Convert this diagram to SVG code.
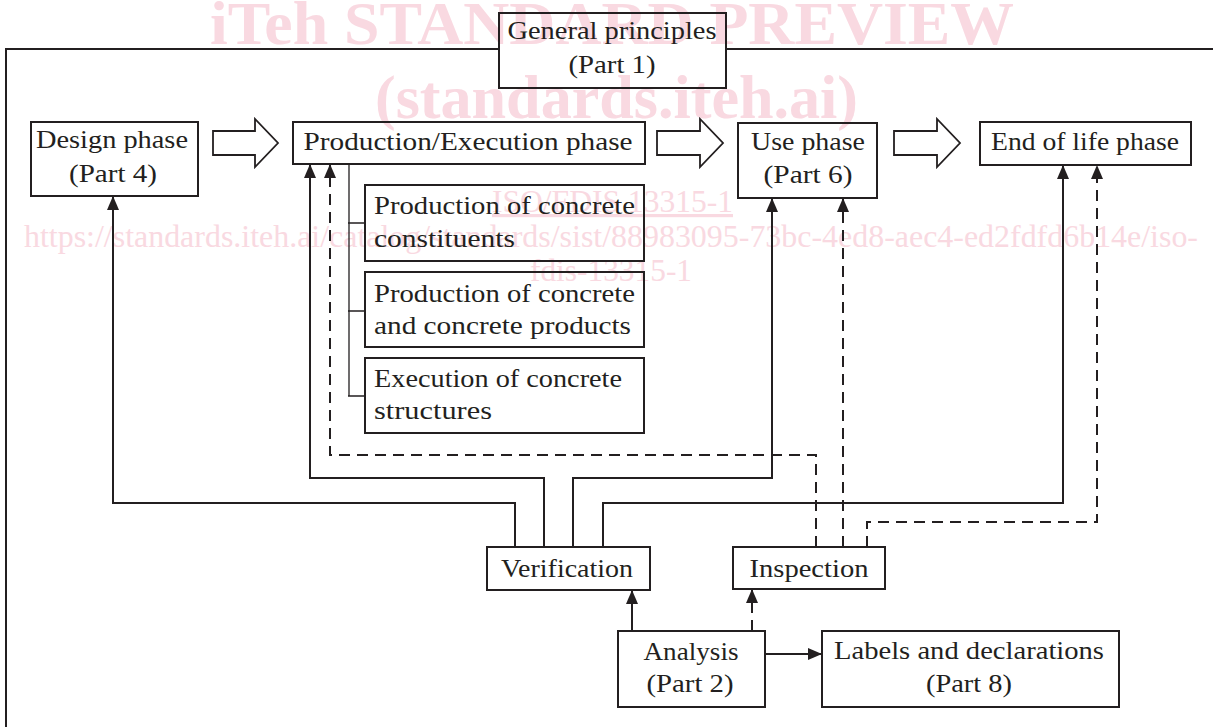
<svg xmlns="http://www.w3.org/2000/svg" width="1213" height="727" viewBox="0 0 1213 727">
<style>
  .wm { fill: #f9d9e1; font-family: "Liberation Serif", "Times New Roman", serif; }
  .wmb { font-weight: bold; font-size: 62px; }
  .wms { font-size: 32px; }
  .box { fill: none; stroke: #231f20; stroke-width: 2; }
  .barrow { fill: #ffffff; stroke: #231f20; stroke-width: 1.8; stroke-linejoin: miter; }
  .t { fill: #231f20; font-family: "Liberation Serif", "Times New Roman", serif; font-size: 26px; }
  .c { text-anchor: middle; }
  .line { fill: none; stroke: #231f20; stroke-width: 2; }
  .dash { fill: none; stroke: #231f20; stroke-width: 2; stroke-dasharray: 11 7; }
  .thin { fill: none; stroke: #231f20; stroke-width: 1.3; }
  .frame { fill: none; stroke: #231f20; stroke-width: 2; }
</style>
<defs>
  <marker id="ah" viewBox="0 0 14 12" markerWidth="14" markerHeight="12" refX="14" refY="6" orient="auto" markerUnits="userSpaceOnUse">
    <path d="M0,0 L14,6 L0,12 z" fill="#231f20"/>
  </marker>
</defs>
<rect width="1213" height="727" fill="#ffffff"/>

<g id="watermark">
  <text class="wm wmb" x="210" y="44" textLength="804" lengthAdjust="spacingAndGlyphs">iTeh STANDARD PREVIEW</text>
  <text class="wm wmb" x="375" y="118" textLength="483" lengthAdjust="spacingAndGlyphs">(standards.iteh.ai)</text>
  <text class="wm wms" x="492" y="212" textLength="241" lengthAdjust="spacingAndGlyphs" text-decoration="underline">ISO/FDIS 13315-1</text>
  <text class="wm wms" x="24" y="247" textLength="1174" lengthAdjust="spacingAndGlyphs">https://standards.iteh.ai/catalog/standards/sist/88983095-73bc-4ed8-aec4-ed2fdfd6b14e/iso-</text>
  <text class="wm wms" x="530" y="281" textLength="162" lengthAdjust="spacingAndGlyphs">fdis-13315-1</text>
</g>

<path class="frame" d="M6,727 V49 H499 M726,49 H1213"/>

<g id="connectors">
  <path class="line" d="M515,547 V503 H113 V196" marker-end="url(#ah)"/>
  <path class="line" d="M544,547 V478 H310 V164" marker-end="url(#ah)"/>
  <path class="line" d="M573,547 V478 H772 V198" marker-end="url(#ah)"/>
  <path class="line" d="M603,547 V503 H1063 V165" marker-end="url(#ah)"/>
  <path class="dash" d="M816,547 V455 H330 V164" marker-end="url(#ah)"/>
  <path class="dash" d="M843,547 V198" marker-end="url(#ah)"/>
  <path class="dash" d="M867,547 V522 H1097 V165" marker-end="url(#ah)"/>
  <path class="line" d="M632,631 V590" marker-end="url(#ah)"/>
  <path class="dash" d="M752,631 V589" marker-end="url(#ah)"/>
  <path class="line" d="M765,654 H822" marker-end="url(#ah)"/>
  <path class="thin" d="M349,164 V396 M348,223 H365 M348,311 H365 M348,396 H365"/>
  <polygon class="barrow" points="213,131 255,131 255,119 278,143 255,167 255,155 213,155"/>
  <polygon class="barrow" points="657,131 700,131 700,119 723,143 700,167 700,155 657,155"/>
  <polygon class="barrow" points="894,131 937,131 937,119 960,143 937,167 937,155 894,155"/>
</g>

<g id="general-principles">
  <rect class="box" x="499" y="13" width="227" height="75"/>
  <text class="t c" x="612" y="39" textLength="209" lengthAdjust="spacingAndGlyphs">General principles</text>
  <text class="t c" x="612" y="73" textLength="87" lengthAdjust="spacingAndGlyphs">(Part 1)</text>
</g>

<g id="design-phase">
  <rect class="box" x="31" y="122" width="167" height="74"/>
  <text class="t c" x="112" y="148" textLength="152" lengthAdjust="spacingAndGlyphs">Design phase</text>
  <text class="t c" x="113" y="182" textLength="88" lengthAdjust="spacingAndGlyphs">(Part 4)</text>
</g>

<g id="production-phase">
  <rect class="box" x="293" y="122" width="352" height="42"/>
  <text class="t c" x="468" y="150" textLength="329" lengthAdjust="spacingAndGlyphs">Production/Execution phase</text>
</g>

<g id="use-phase">
  <rect class="box" x="738" y="123" width="139" height="75"/>
  <text class="t c" x="808" y="150" textLength="114" lengthAdjust="spacingAndGlyphs">Use phase</text>
  <text class="t c" x="808" y="183" textLength="89" lengthAdjust="spacingAndGlyphs">(Part 6)</text>
</g>

<g id="end-of-life-phase">
  <rect class="box" x="980" y="122" width="211" height="43"/>
  <text class="t c" x="1085" y="150" textLength="188" lengthAdjust="spacingAndGlyphs">End of life phase</text>
</g>

<g id="production-constituents">
  <rect class="box" x="365" y="185" width="279" height="76"/>
  <text class="t" x="374" y="214" textLength="261" lengthAdjust="spacingAndGlyphs">Production of concrete</text>
  <text class="t" x="374" y="247" textLength="141" lengthAdjust="spacingAndGlyphs">constituents</text>
</g>

<g id="production-products">
  <rect class="box" x="365" y="272" width="279" height="75"/>
  <text class="t" x="374" y="302" textLength="261" lengthAdjust="spacingAndGlyphs">Production of concrete</text>
  <text class="t" x="374" y="334" textLength="257" lengthAdjust="spacingAndGlyphs">and concrete products</text>
</g>

<g id="execution-structures">
  <rect class="box" x="365" y="358" width="279" height="75"/>
  <text class="t" x="374" y="387" textLength="248" lengthAdjust="spacingAndGlyphs">Execution of concrete</text>
  <text class="t" x="374" y="419" textLength="118" lengthAdjust="spacingAndGlyphs">structures</text>
</g>

<g id="verification">
  <rect class="box" x="487" y="547" width="163" height="43"/>
  <text class="t c" x="567" y="577" textLength="132" lengthAdjust="spacingAndGlyphs">Verification</text>
</g>

<g id="inspection">
  <rect class="box" x="733" y="547" width="152" height="42"/>
  <text class="t c" x="809" y="577" textLength="119" lengthAdjust="spacingAndGlyphs">Inspection</text>
</g>

<g id="analysis">
  <rect class="box" x="618" y="631" width="147" height="76"/>
  <text class="t c" x="691" y="660" textLength="95" lengthAdjust="spacingAndGlyphs">Analysis</text>
  <text class="t c" x="690" y="692" textLength="87" lengthAdjust="spacingAndGlyphs">(Part 2)</text>
</g>

<g id="labels-declarations">
  <rect class="box" x="822" y="631" width="297" height="76"/>
  <text class="t c" x="969" y="659" textLength="270" lengthAdjust="spacingAndGlyphs">Labels and declarations</text>
  <text class="t c" x="969" y="692" textLength="86" lengthAdjust="spacingAndGlyphs">(Part 8)</text>
</g>
</svg>
